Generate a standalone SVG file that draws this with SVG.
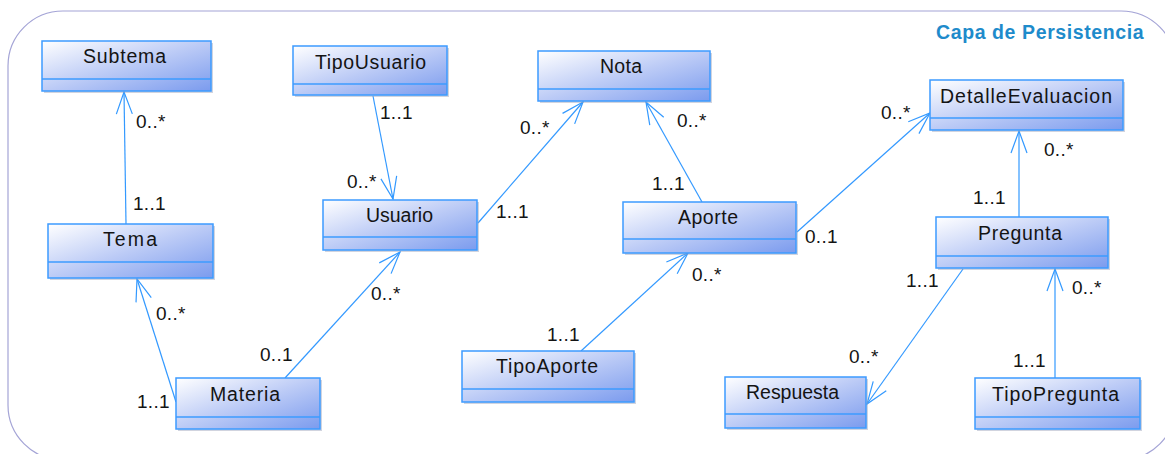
<svg xmlns="http://www.w3.org/2000/svg" width="1165" height="454" viewBox="0 0 1165 454">
  <defs>
    <linearGradient id="cls-fill" x1="0" y1="0" x2="1" y2="1">
      <stop offset="0" stop-color="#ffffff"/>
      <stop offset="0.5" stop-color="#bccbf6"/>
      <stop offset="1" stop-color="#7b9bee"/>
    </linearGradient>
    <marker id="open-arrow" markerUnits="userSpaceOnUse" markerWidth="30" markerHeight="30" viewBox="-26 -12 30 24" refX="0" refY="0" orient="auto">
      <path d="M-22,-8 L0,0 L-22,8" fill="none" stroke="#3399ff" stroke-width="1.2"/>
    </marker>
    <style>
      .frame { fill: none; stroke: #a4a4d6; stroke-width: 1.2; }
      .title { font-family: "Liberation Sans", Arial, sans-serif; font-size: 19.5px; font-weight: bold; fill: #1e8bcb; letter-spacing: 0.6px; }
      .shadow { fill: #9aa0b8; opacity: 0.45; }
      .box { fill: url(#cls-fill); stroke: #3d9bff; stroke-width: 1.5; }
      .div { stroke: #3d9bff; stroke-width: 1.3; }
      .name { font-family: "Liberation Sans", Arial, sans-serif; font-size: 19.5px; fill: #141414; }
      .edge { fill: none; stroke: #3399ff; stroke-width: 1.2; marker-end: url(#open-arrow); }
      .mult { font-family: "Liberation Sans", Arial, sans-serif; font-size: 19px; fill: #141414; letter-spacing: 0.3px; }
    </style>
  </defs>

  <rect width="1165" height="454" fill="#ffffff"/>

  <!-- package frame -->
  <rect class="frame" x="8" y="11" width="1168" height="449" rx="55" ry="55"/>
  <text class="title" x="936" y="39">Capa de Persistencia</text>

  <!-- associations -->
  <g id="connectors">
    <line class="edge" x1="126" y1="224" x2="124" y2="92"/>
    <line class="edge" x1="373" y1="96" x2="393" y2="199"/>
    <line class="edge" x1="478" y1="223" x2="583" y2="102"/>
    <line class="edge" x1="702" y1="202" x2="646" y2="102"/>
    <line class="edge" x1="797" y1="232" x2="930" y2="113"/>
    <line class="edge" x1="1019" y1="217" x2="1019" y2="131"/>
    <line class="edge" x1="176" y1="402" x2="137" y2="279"/>
    <line class="edge" x1="285" y1="378" x2="400" y2="252"/>
    <line class="edge" x1="581" y1="351" x2="688" y2="253"/>
    <line class="edge" x1="963" y1="269" x2="867" y2="404"/>
    <line class="edge" x1="1055" y1="378" x2="1055" y2="269"/>

    <text class="mult" x="136" y="128">0..*</text>
    <text class="mult" x="133" y="210">1..1</text>
    <text class="mult" x="380" y="119">1..1</text>
    <text class="mult" x="347" y="188">0..*</text>
    <text class="mult" x="520" y="134">0..*</text>
    <text class="mult" x="496" y="218">1..1</text>
    <text class="mult" x="677" y="127">0..*</text>
    <text class="mult" x="652" y="190">1..1</text>
    <text class="mult" x="881" y="119">0..*</text>
    <text class="mult" x="805" y="243">0..1</text>
    <text class="mult" x="1044" y="156">0..*</text>
    <text class="mult" x="973" y="204">1..1</text>
    <text class="mult" x="156" y="320">0..*</text>
    <text class="mult" x="137" y="408">1..1</text>
    <text class="mult" x="260" y="361">0..1</text>
    <text class="mult" x="371" y="300">0..*</text>
    <text class="mult" x="692" y="281">0..*</text>
    <text class="mult" x="547" y="341">1..1</text>
    <text class="mult" x="906" y="287">1..1</text>
    <text class="mult" x="849" y="363">0..*</text>
    <text class="mult" x="1072" y="294">0..*</text>
    <text class="mult" x="1013" y="367">1..1</text>
  </g>

  <!-- classes -->
  <g id="Subtema">
    <rect class="shadow" x="44" y="43" width="169" height="50"/>
    <rect class="box" x="42" y="41" width="169" height="50"/>
    <line class="div" x1="42" y1="79" x2="211" y2="79"/>
    <text class="name" x="83" y="63" textLength="83" lengthAdjust="spacing">Subtema</text>
  </g>
  <g id="TipoUsuario">
    <rect class="shadow" x="295" y="48" width="154" height="49"/>
    <rect class="box" x="293" y="46" width="154" height="49"/>
    <line class="div" x1="293" y1="84" x2="447" y2="84"/>
    <text class="name" x="315" y="69" textLength="111" lengthAdjust="spacing">TipoUsuario</text>
  </g>
  <g id="Nota">
    <rect class="shadow" x="540" y="53" width="172" height="50"/>
    <rect class="box" x="538" y="51" width="172" height="50"/>
    <line class="div" x1="538" y1="89" x2="710" y2="89"/>
    <text class="name" x="600" y="73" textLength="42" lengthAdjust="spacing">Nota</text>
  </g>
  <g id="DetalleEvaluacion">
    <rect class="shadow" x="932" y="82" width="193" height="50"/>
    <rect class="box" x="930" y="80" width="193" height="50"/>
    <line class="div" x1="930" y1="118" x2="1123" y2="118"/>
    <text class="name" x="940" y="103" textLength="172" lengthAdjust="spacing">DetalleEvaluacion</text>
  </g>
  <g id="Usuario">
    <rect class="shadow" x="325" y="202" width="154" height="50"/>
    <rect class="box" x="323" y="200" width="154" height="50"/>
    <line class="div" x1="323" y1="237" x2="477" y2="237"/>
    <text class="name" x="366" y="222" textLength="67" lengthAdjust="spacing">Usuario</text>
  </g>
  <g id="Tema">
    <rect class="shadow" x="50" y="226" width="165" height="54"/>
    <rect class="box" x="48" y="224" width="165" height="54"/>
    <line class="div" x1="48" y1="262" x2="213" y2="262"/>
    <text class="name" x="103" y="246" textLength="54" lengthAdjust="spacing">Tema</text>
  </g>
  <g id="Aporte">
    <rect class="shadow" x="625" y="204" width="173" height="51"/>
    <rect class="box" x="623" y="202" width="173" height="51"/>
    <line class="div" x1="623" y1="239" x2="796" y2="239"/>
    <text class="name" x="678" y="224" textLength="60" lengthAdjust="spacing">Aporte</text>
  </g>
  <g id="Pregunta">
    <rect class="shadow" x="938" y="219" width="172" height="51"/>
    <rect class="box" x="936" y="217" width="172" height="51"/>
    <line class="div" x1="936" y1="256" x2="1108" y2="256"/>
    <text class="name" x="978" y="240" textLength="84" lengthAdjust="spacing">Pregunta</text>
  </g>
  <g id="TipoAporte">
    <rect class="shadow" x="464" y="353" width="172" height="51"/>
    <rect class="box" x="462" y="351" width="172" height="51"/>
    <line class="div" x1="462" y1="389" x2="634" y2="389"/>
    <text class="name" x="496" y="373" textLength="102" lengthAdjust="spacing">TipoAporte</text>
  </g>
  <g id="Materia">
    <rect class="shadow" x="178" y="380" width="144" height="51"/>
    <rect class="box" x="176" y="378" width="144" height="51"/>
    <line class="div" x1="176" y1="417" x2="320" y2="417"/>
    <text class="name" x="210" y="401" textLength="70" lengthAdjust="spacing">Materia</text>
  </g>
  <g id="Respuesta">
    <rect class="shadow" x="727" y="379" width="141" height="51"/>
    <rect class="box" x="725" y="377" width="141" height="51"/>
    <line class="div" x1="725" y1="414" x2="866" y2="414"/>
    <text class="name" x="746" y="399" textLength="93" lengthAdjust="spacing">Respuesta</text>
  </g>
  <g id="TipoPregunta">
    <rect class="shadow" x="977" y="380" width="165" height="51"/>
    <rect class="box" x="975" y="378" width="165" height="51"/>
    <line class="div" x1="975" y1="417" x2="1140" y2="417"/>
    <text class="name" x="992" y="401" textLength="127" lengthAdjust="spacing">TipoPregunta</text>
  </g>
</svg>
